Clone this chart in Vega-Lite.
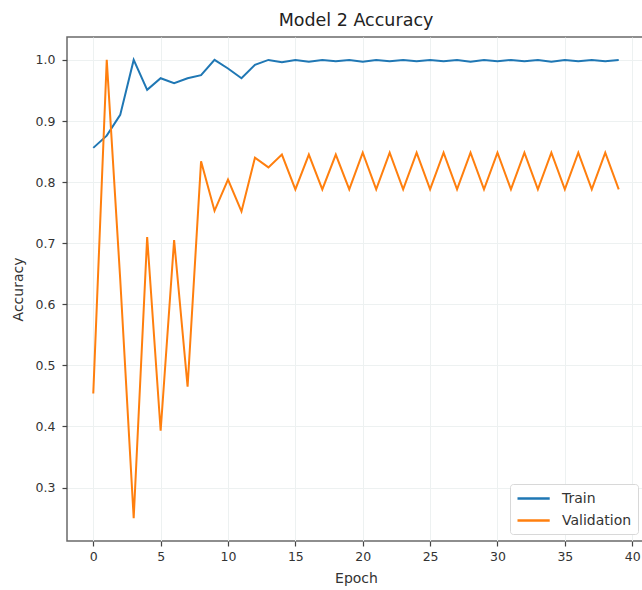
{
  "$schema": "https://vega.github.io/schema/vega-lite/v6.json",
  "width": 578,
  "height": 504,
  "autosize": "none",
  "padding": {"left": 67, "top": 37, "right": 0, "bottom": 49},
  "background": "white",
  "title": {"text": "Model 2 Accuracy", "fontSize": 17.5, "font": "DejaVu Sans", "fontWeight": "normal", "color": "#222", "anchor": "middle", "offset": 8},
  "config": {
    "font": "DejaVu Sans",
    "view": {"stroke": "#6a6a6a", "strokeWidth": 1.5},
    "axis": {
      "labelFont": "DejaVu Sans",
      "titleFont": "DejaVu Sans",
      "labelFontSize": 12.5,
      "titleFontSize": 14,
      "titleFontWeight": "normal",
      "labelColor": "#333",
      "titleColor": "#333",
      "tickColor": "#444",
      "tickSize": 5,
      "tickWidth": 1.2,
      "domain": false,
      "gridColor": "#edf1f1",
      "gridWidth": 1
    },
    "legend": {"labelFont": "DejaVu Sans"}
  },
  "data": {
    "values": [
      {"epoch": 0, "series": "Train", "acc": 0.856},
      {"epoch": 1, "series": "Train", "acc": 0.876},
      {"epoch": 2, "series": "Train", "acc": 0.910},
      {"epoch": 3, "series": "Train", "acc": 1.0},
      {"epoch": 4, "series": "Train", "acc": 0.951},
      {"epoch": 5, "series": "Train", "acc": 0.970},
      {"epoch": 6, "series": "Train", "acc": 0.962},
      {"epoch": 7, "series": "Train", "acc": 0.970},
      {"epoch": 8, "series": "Train", "acc": 0.975},
      {"epoch": 9, "series": "Train", "acc": 1.0},
      {"epoch": 10, "series": "Train", "acc": 0.986},
      {"epoch": 11, "series": "Train", "acc": 0.970},
      {"epoch": 12, "series": "Train", "acc": 0.992},
      {"epoch": 13, "series": "Train", "acc": 1.0},
      {"epoch": 14, "series": "Train", "acc": 0.996},
      {"epoch": 15, "series": "Train", "acc": 1.0},
      {"epoch": 16, "series": "Train", "acc": 0.997},
      {"epoch": 17, "series": "Train", "acc": 1.0},
      {"epoch": 18, "series": "Train", "acc": 0.998},
      {"epoch": 19, "series": "Train", "acc": 1.0},
      {"epoch": 20, "series": "Train", "acc": 0.997},
      {"epoch": 21, "series": "Train", "acc": 1.0},
      {"epoch": 22, "series": "Train", "acc": 0.998},
      {"epoch": 23, "series": "Train", "acc": 1.0},
      {"epoch": 24, "series": "Train", "acc": 0.998},
      {"epoch": 25, "series": "Train", "acc": 1.0},
      {"epoch": 26, "series": "Train", "acc": 0.998},
      {"epoch": 27, "series": "Train", "acc": 1.0},
      {"epoch": 28, "series": "Train", "acc": 0.997},
      {"epoch": 29, "series": "Train", "acc": 1.0},
      {"epoch": 30, "series": "Train", "acc": 0.998},
      {"epoch": 31, "series": "Train", "acc": 1.0},
      {"epoch": 32, "series": "Train", "acc": 0.998},
      {"epoch": 33, "series": "Train", "acc": 1.0},
      {"epoch": 34, "series": "Train", "acc": 0.997},
      {"epoch": 35, "series": "Train", "acc": 1.0},
      {"epoch": 36, "series": "Train", "acc": 0.998},
      {"epoch": 37, "series": "Train", "acc": 1.0},
      {"epoch": 38, "series": "Train", "acc": 0.998},
      {"epoch": 39, "series": "Train", "acc": 1.0},
      {"epoch": 0, "series": "Validation", "acc": 0.454},
      {"epoch": 1, "series": "Validation", "acc": 1.0},
      {"epoch": 2, "series": "Validation", "acc": 0.641},
      {"epoch": 3, "series": "Validation", "acc": 0.250},
      {"epoch": 4, "series": "Validation", "acc": 0.710},
      {"epoch": 5, "series": "Validation", "acc": 0.393},
      {"epoch": 6, "series": "Validation", "acc": 0.705},
      {"epoch": 7, "series": "Validation", "acc": 0.465},
      {"epoch": 8, "series": "Validation", "acc": 0.834},
      {"epoch": 9, "series": "Validation", "acc": 0.753},
      {"epoch": 10, "series": "Validation", "acc": 0.804},
      {"epoch": 11, "series": "Validation", "acc": 0.752},
      {"epoch": 12, "series": "Validation", "acc": 0.840},
      {"epoch": 13, "series": "Validation", "acc": 0.824},
      {"epoch": 14, "series": "Validation", "acc": 0.845},
      {"epoch": 15, "series": "Validation", "acc": 0.788},
      {"epoch": 16, "series": "Validation", "acc": 0.845},
      {"epoch": 17, "series": "Validation", "acc": 0.788},
      {"epoch": 18, "series": "Validation", "acc": 0.845},
      {"epoch": 19, "series": "Validation", "acc": 0.788},
      {"epoch": 20, "series": "Validation", "acc": 0.848},
      {"epoch": 21, "series": "Validation", "acc": 0.788},
      {"epoch": 22, "series": "Validation", "acc": 0.848},
      {"epoch": 23, "series": "Validation", "acc": 0.788},
      {"epoch": 24, "series": "Validation", "acc": 0.848},
      {"epoch": 25, "series": "Validation", "acc": 0.788},
      {"epoch": 26, "series": "Validation", "acc": 0.848},
      {"epoch": 27, "series": "Validation", "acc": 0.788},
      {"epoch": 28, "series": "Validation", "acc": 0.848},
      {"epoch": 29, "series": "Validation", "acc": 0.788},
      {"epoch": 30, "series": "Validation", "acc": 0.848},
      {"epoch": 31, "series": "Validation", "acc": 0.788},
      {"epoch": 32, "series": "Validation", "acc": 0.848},
      {"epoch": 33, "series": "Validation", "acc": 0.788},
      {"epoch": 34, "series": "Validation", "acc": 0.848},
      {"epoch": 35, "series": "Validation", "acc": 0.788},
      {"epoch": 36, "series": "Validation", "acc": 0.848},
      {"epoch": 37, "series": "Validation", "acc": 0.788},
      {"epoch": 38, "series": "Validation", "acc": 0.848},
      {"epoch": 39, "series": "Validation", "acc": 0.788}
    ]
  },
  "mark": {"type": "line", "strokeWidth": 2, "clip": true},
  "encoding": {
    "x": {
      "field": "epoch",
      "type": "quantitative",
      "scale": {"domain": [-1.95, 40.95], "nice": false, "zero": false},
      "axis": {"title": "Epoch", "values": [0, 5, 10, 15, 20, 25, 30, 35, 40], "labelPadding": 4, "titlePadding": 9, "labelFlush": false}
    },
    "y": {
      "field": "acc",
      "type": "quantitative",
      "scale": {"domain": [0.2125, 1.0375], "nice": false, "zero": false},
      "axis": {"title": "Accuracy", "values": [0.3, 0.4, 0.5, 0.6, 0.7, 0.8, 0.9, 1.0], "format": ".1f", "labelPadding": 7, "titlePadding": 10}
    },
    "color": {
      "field": "series",
      "type": "nominal",
      "scale": {"domain": ["Train", "Validation"], "range": ["#1f77b4", "#ff7f0e"]},
      "legend": {
        "title": null,
        "orient": "bottom-right",
        "offset": 7,
        "symbolType": "M-1,0H3.6",
        "symbolSize": 196,
        "symbolStrokeWidth": 2.5,
        "labelFontSize": 14,
        "labelColor": "#333",
        "labelOffset": 29,
        "rowPadding": 6,
        "padding": 6,
        "strokeColor": "#d8d8d8",
        "fillColor": "white",
        "cornerRadius": 3
      }
    }
  }
}
